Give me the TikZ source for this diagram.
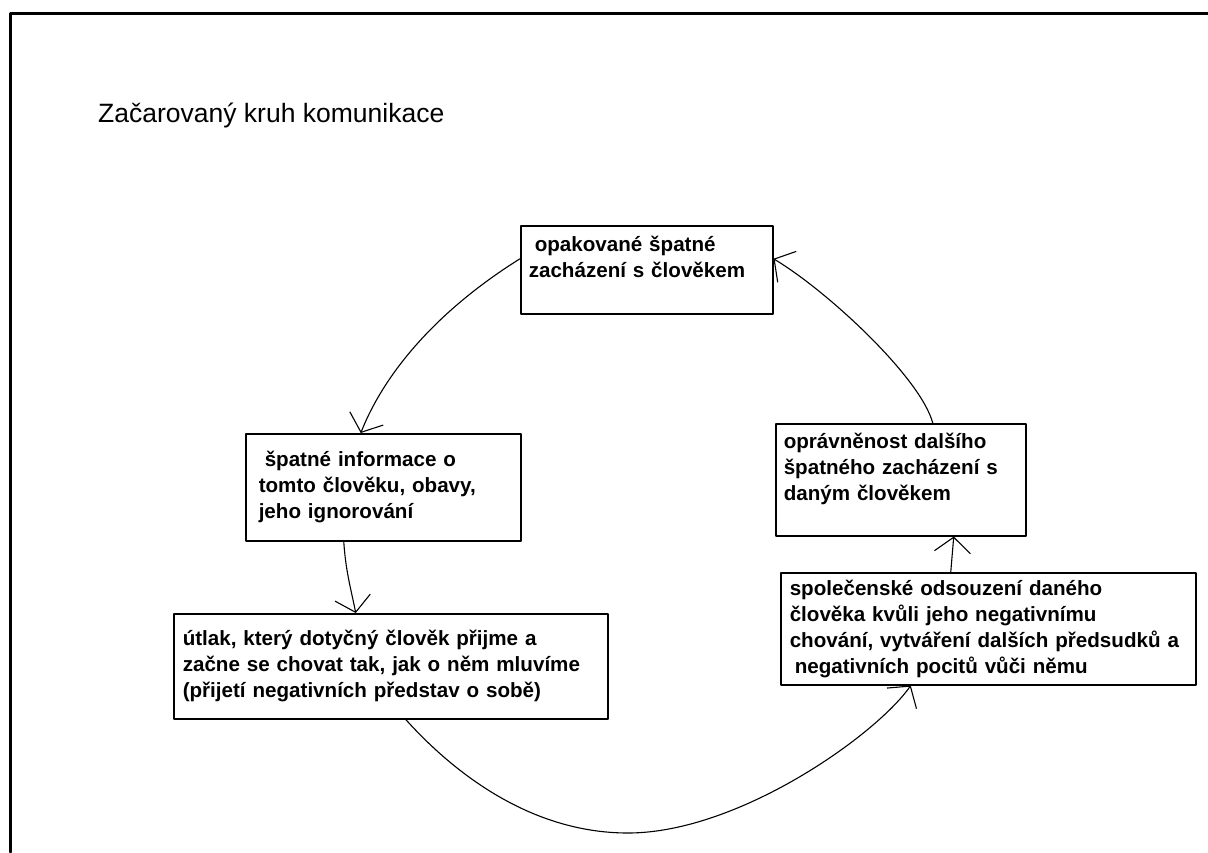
\documentclass[tikz,border=0pt]{standalone}
\usepackage{fontspec}
\setmainfont{Liberation Sans}
\usetikzlibrary{arrows.meta}

\tikzset{
  box/.style={draw, line width=1.5pt, anchor=north west, align=left, inner ysep=0pt,
    font=\fontsize{20.6}{26}\selectfont\bfseries},
  arr/.style={->, line width=1.1pt},
}

\begin{document}
\begin{tikzpicture}[x=1pt, y=-1pt, >={Straight Barb[length=15pt,width=36pt]}, line join=round, line cap=round]
  \useasboundingbox (0,0) rectangle (1208,852);
  % frame
  \draw[line width=3pt] (10.5,852) -- (10.5,13.5) -- (1208,13.5);
  \node[anchor=base west, inner sep=0pt, font=\fontsize{26.5}{30}\selectfont] (title) at (98,122) {Začarovaný kruh komunikace};

  % boxes
  \node[box, inner xsep=8pt, text width=236pt, minimum height=88pt] (opak) at (520,225)
    {\hspace*{6pt}opakované špatné\\zacházení s člověkem\\\mbox{}};
  \node[box, inner xsep=13pt, text width=249pt, minimum height=107pt] (info) at (245,433)
    {\hspace*{6pt}špatné informace o\\tomto člověku, obavy,\\jeho ignorování};
  \node[box, inner xsep=8pt, text width=234pt, minimum height=112pt] (oprav) at (775,423)
    {oprávněnost dalšího\\špatného zacházení s\\daným člověkem\\\mbox{}};
  \node[box, inner xsep=9pt, text width=397pt, minimum height=112pt] (soud) at (780,572)
    {společenské odsouzení daného\\člověka kvůli jeho negativnímu\\chování, vytváření dalších předsudků a\\\hspace*{5pt}negativních pocitů vůči němu};
  \node[box, inner xsep=9pt, text width=416pt, minimum height=105pt] (utlak) at (173,613)
    {útlak, který dotyčný člověk přijme a\\začne se chovat tak, jak o něm mluvíme\\(přijetí negativních představ o sobě)};
  \coordinate (dno) at (628,833);

  % arrows
  \draw[arr] ([yshift=11pt]opak.west) .. controls +(-80,50) and +(25,-63) .. ([xshift=-22.5pt]info.north);
  \draw[arr] ([xshift=-39.5pt]info.south) .. controls +(2,30) and +(-5,-25) .. ([xshift=-35pt]utlak.north);
  \draw[arr] ([xshift=15pt]utlak.south) .. controls +(45,50) and +(-100,0) .. (dno)
    .. controls +(110,0) and +(-35,50) .. ([xshift=-77.5pt]soud.south);
  \draw[arr] ([xshift=-37.5pt]soud.north) -- ([xshift=53pt]oprav.south);
  \draw[arr] ([xshift=32pt]oprav.north) .. controls +(-12,-45) and +(55,33) .. ([yshift=11pt]opak.east);
\end{tikzpicture}
\end{document}
